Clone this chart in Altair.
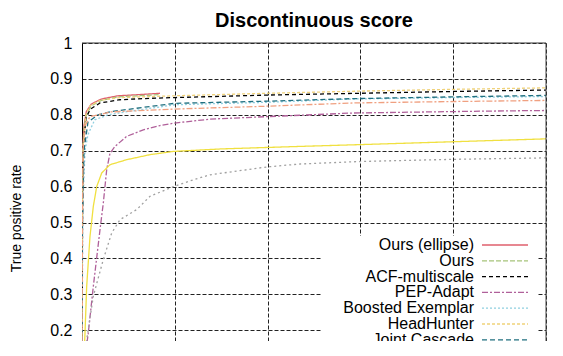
import altair as alt
import pandas as pd

# ---------------- data ----------------
series_names = ["Ours (ellipse)", "Ours", "ACF-multiscale", "PEP-Adapt",
                "Boosted Exemplar", "HeadHunter", "Joint Cascade",
                "Yan et al.", "SURF multiview", "Viola-Jones"]

fp_ellipse = [0, 1, 2.2, 4.3, 9.3, 20, 41.6, 77.6, 120, 168]
tpr_ellipse = [0.15, 0.6, 0.72, 0.77, 0.809, 0.83, 0.844, 0.853, 0.856, 0.86]

fp_ours = [0, 1, 2.2, 4.3, 9.3, 20, 41.6, 77.6, 120, 165]
tpr_ours = [0.15, 0.58, 0.70, 0.76, 0.80, 0.825, 0.84, 0.85, 0.853, 0.856]

fp_acf = [0, 1, 2.2, 8.6, 17.2, 38.8, 81.9, 146.6, 200, 400, 600, 800, 1000]
tpr_acf = [0.1, 0.5, 0.7, 0.79, 0.815, 0.833, 0.842, 0.846, 0.848, 0.855, 0.86, 0.865, 0.869]

fp_pep = [0, 6, 13.6, 24.4, 38.8, 45.9, 53.2, 60.3, 71.1, 96.3, 132.1, 168, 200, 275.9, 400, 584, 800, 916, 1000]
tpr_pep = [0.0, 0.12, 0.193, 0.322, 0.48, 0.554, 0.647, 0.693, 0.712, 0.74, 0.758, 0.77, 0.777, 0.788, 0.795, 0.805, 0.809, 0.811, 0.812]

fp_boosted = [0, 2, 6.5, 12.9, 27.4, 56, 99.1, 200, 400, 584, 800, 1000]
tpr_boosted = [0.1, 0.55, 0.70, 0.745, 0.786, 0.80, 0.809, 0.828, 0.835, 0.844, 0.848, 0.851]

fp_headhunter = [0, 1, 2.2, 8.6, 17.2, 38.8, 81.9, 200, 400, 600, 800, 1000]
tpr_headhunter = [0.1, 0.55, 0.71, 0.80, 0.825, 0.84, 0.848, 0.853, 0.86, 0.866, 0.871, 0.875]

fp_joint = [0, 1, 4.3, 12.9, 34.5, 62.5, 163.8, 200, 400, 584, 800, 1000]
tpr_joint = [0.1, 0.5, 0.70, 0.78, 0.80, 0.809, 0.826, 0.832, 0.838, 0.845, 0.85, 0.854]

fp_yan = [0, 1, 2.2, 6.5, 17.2, 62.5, 200, 400, 584, 800, 1000]
tpr_yan = [0.1, 0.5, 0.70, 0.77, 0.795, 0.808, 0.816, 0.824, 0.833, 0.837, 0.84]

fp_surf = [0, 4, 6.5, 10.1, 17.2, 24.4, 31.7, 42.5, 60.3, 96.3, 146.6, 196.8, 300, 469.8, 600, 800, 1000]
tpr_surf = [0.0, 0.12, 0.193, 0.322, 0.461, 0.545, 0.60, 0.638, 0.661, 0.675, 0.689, 0.698, 0.705, 0.712, 0.717, 0.725, 0.733]

fp_vj = [0, 6, 10.1, 24.4, 45.9, 64, 81.9, 117.9, 146.6, 196.8, 239.9, 275.9, 400, 469.8, 600, 800, 1000]
tpr_vj = [0.0, 0.12, 0.174, 0.295, 0.397, 0.471, 0.508, 0.536, 0.573, 0.60, 0.619, 0.633, 0.655, 0.663, 0.670, 0.676, 0.68]

y_ticks = [0.2, 0.3, 0.4, 0.5, 0.6, 0.7, 0.8, 0.9, 1.0]
x_ticks = [0, 200, 400, 600, 800, 1000]

# ---------------- styles ----------------
series_colors = ["#e0606e", "#a6c47a", "#000000", "#b0609a", "#8fcfe0",
                 "#f0d27a", "#1f6f7f", "#f0a080", "#f0e040", "#a0a0a0"]
series_dashes = [[1, 0], [5, 2], [4, 3], [6, 2, 2, 2], [2, 2],
                 [3, 2], [5, 3], [6, 2, 2, 2], [1, 0], [2, 3]]
legend_count = 7

all_fp = [fp_ellipse, fp_ours, fp_acf, fp_pep, fp_boosted, fp_headhunter,
          fp_joint, fp_yan, fp_surf, fp_vj]
all_tpr = [tpr_ellipse, tpr_ours, tpr_acf, tpr_pep, tpr_boosted, tpr_headhunter,
           tpr_joint, tpr_yan, tpr_surf, tpr_vj]

rows = []
for k, (name, xs, ys) in enumerate(zip(series_names, all_fp, all_tpr)):
    for j, (xv, yv) in enumerate(zip(xs, ys)):
        rows.append({"series": name, "fp": xv, "tpr": yv, "k": k, "j": j})
df = pd.DataFrame(rows)

W, H = 464, 298
FONT = "Liberation Sans"

color_scale = alt.Scale(domain=series_names, range=series_colors)
dash_scale = alt.Scale(domain=series_names, range=series_dashes)

lines = alt.Chart(df).mark_line(strokeWidth=1.3, clip=True).encode(
    x=alt.X("fp:Q", scale=alt.Scale(domain=[0, 1000], nice=False),
            axis=alt.Axis(values=x_ticks, labels=False, ticks=False, domain=False,
                          title=None, grid=True)),
    y=alt.Y("tpr:Q", scale=alt.Scale(domain=[0.17, 1.0], nice=False, zero=False),
            axis=alt.Axis(values=y_ticks, format=".1~f", grid=True, tickSize=0,
                          labelPadding=10, labelFontSize=16, labelFont=FONT,
                          labelColor="black", domainColor="black", domainWidth=1,
                          title="True positive rate", titleFont=FONT, titleFontSize=14,
                          titleFontWeight="normal", titleColor="black",
                          titleAngle=270, titleBaseline="middle", titleAlign="center",
                          titleX=-66, titleY=175)),
    color=alt.Color("series:N", scale=color_scale, legend=None),
    strokeDash=alt.StrokeDash("series:N", scale=dash_scale, legend=None),
    detail="k:N",
    order="j:Q",
)

one = pd.DataFrame({"a": [0]})

legend_box = alt.Chart(one).mark_rect(color="white").encode(
    x=alt.value(240), x2=alt.value(455), y=alt.value(193), y2=alt.value(H)
)

layers = [lines, legend_box]
for i in range(legend_count):
    ld = pd.DataFrame({"series": [series_names[i]]})
    ypix = 202 + 15.8 * i
    layers.append(alt.Chart(ld).mark_rule(strokeWidth=1.3).encode(
        x=alt.value(400), x2=alt.value(446), y=alt.value(ypix),
        color=alt.Color("series:N", scale=color_scale, legend=None),
        strokeDash=alt.StrokeDash("series:N", scale=dash_scale, legend=None),
    ))
    layers.append(alt.Chart(ld).mark_text(align="right", baseline="middle", fontSize=16,
                                          font=FONT, color="black", clip=True).encode(
        x=alt.value(392), y=alt.value(ypix), text="series:N"
    ))

top_border = alt.Chart(one).mark_rule(color="#333333", strokeWidth=1).encode(
    x=alt.value(0), x2=alt.value(W), y=alt.value(0))
right_border = alt.Chart(one).mark_rule(color="#444444", strokeWidth=1).encode(
    x=alt.value(W), y=alt.value(0), y2=alt.value(H))
layers += [top_border, right_border]

chart = alt.layer(*layers).properties(
    width=W, height=H,
    title=alt.TitleParams("Discontinuous score", fontSize=20, fontWeight="bold",
                          font=FONT, color="black", offset=4, anchor="middle"),
    autosize=alt.AutoSizeParams(type="none"),
    padding={"left": 74, "top": 35, "right": 5, "bottom": 0},
).configure_view(stroke=None).configure_axis(
    gridColor="#222222", gridDash=[4, 2], gridWidth=1, gridOpacity=1
)

chart.save("out.html", embed_options={"renderer": "svg", "actions": False})
